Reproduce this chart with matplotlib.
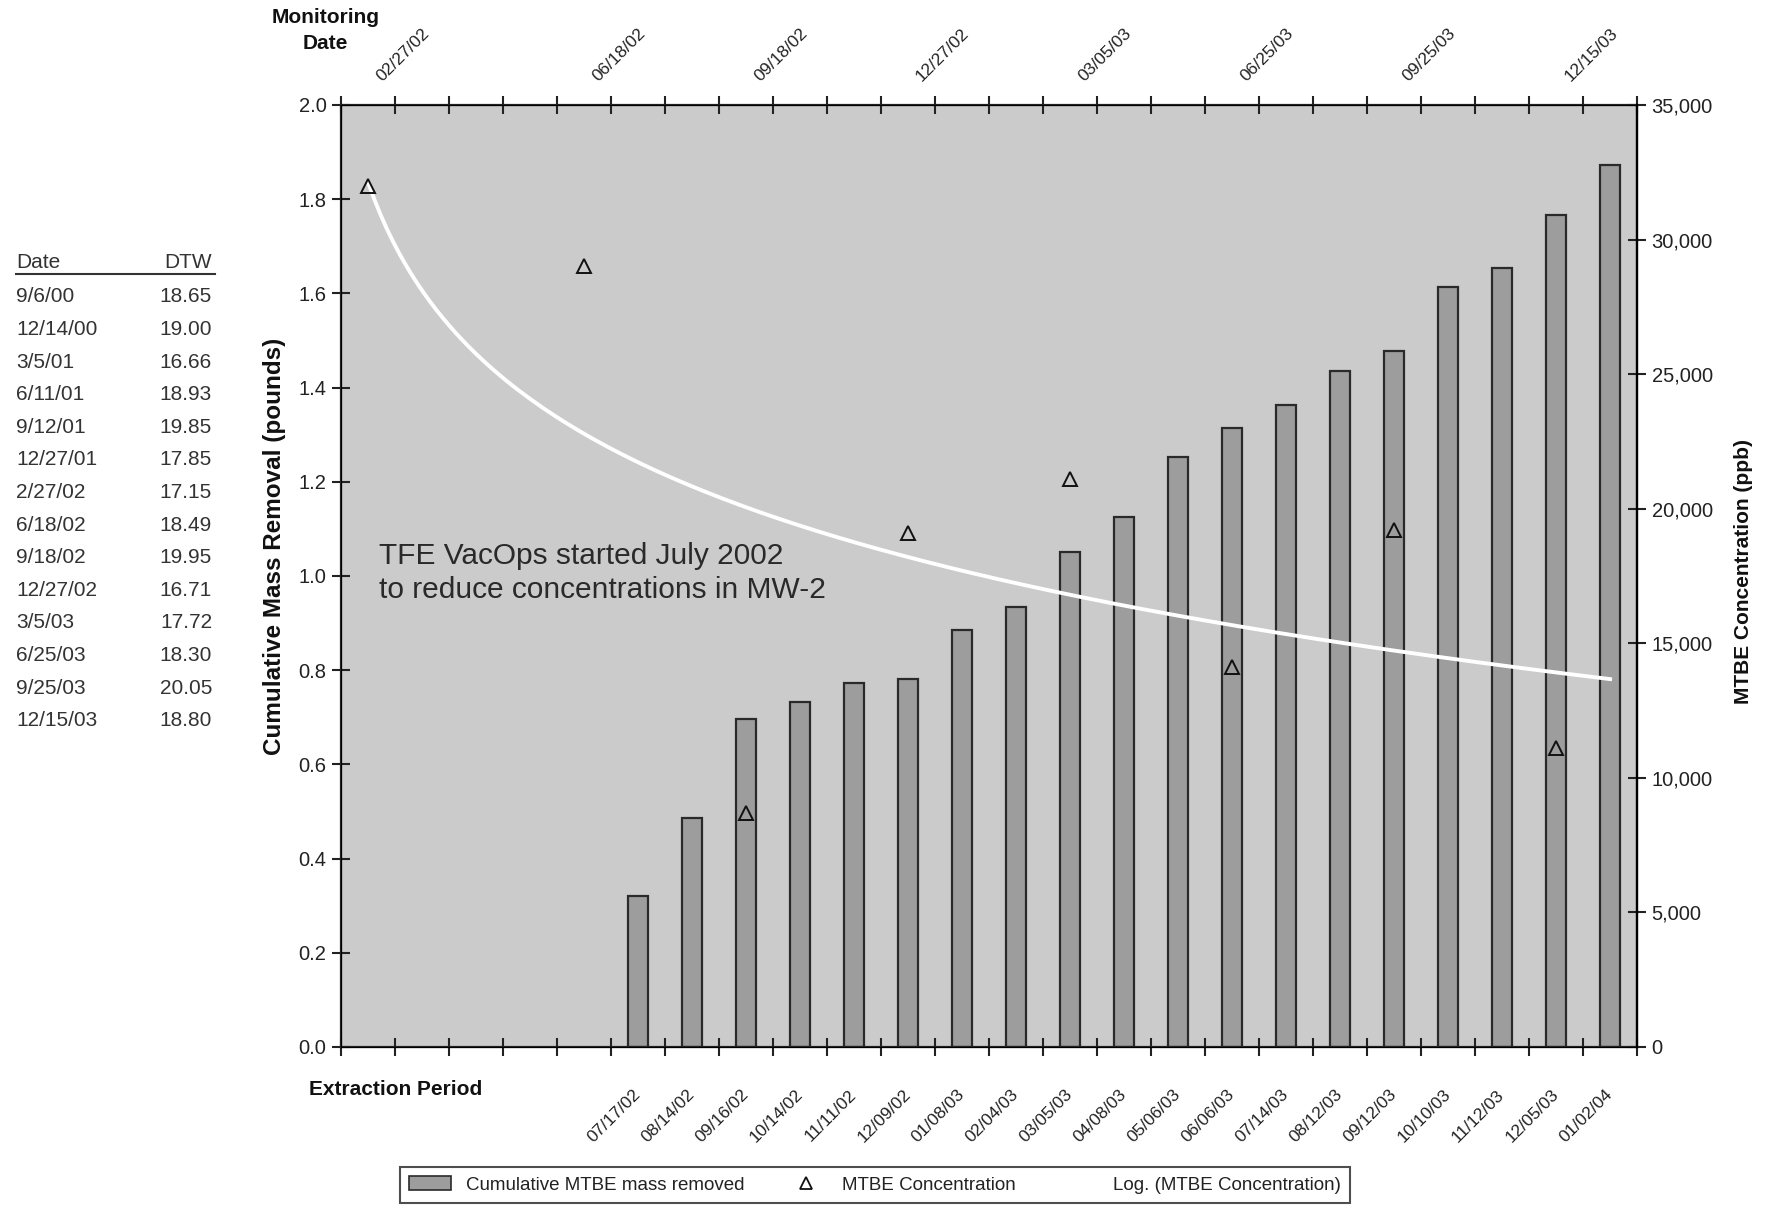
import matplotlib.pyplot as plt
import numpy as np
from matplotlib.patches import Patch
from matplotlib.lines import Line2D
from matplotlib.ticker import FuncFormatter

plt.rcParams["font.family"] = ["Liberation Sans", "DejaVu Sans"]

# Depth-to-water table
dtw_dates = ["9/6/00", "12/14/00", "3/5/01", "6/11/01", "9/12/01", "12/27/01", "2/27/02",
             "6/18/02", "9/18/02", "12/27/02", "3/5/03", "6/25/03", "9/25/03", "12/15/03"]
dtw_values = ["18.65", "19.00", "16.66", "18.93", "19.85", "17.85", "17.15",
              "18.49", "19.95", "16.71", "17.72", "18.30", "20.05", "18.80"]

# Extraction periods (bars, left axis)
n_slots = 24
first_bar_slot = 5
extraction_dates = ["07/17/02", "08/14/02", "09/16/02", "10/14/02", "11/11/02", "12/09/02",
                    "01/08/03", "02/04/03", "03/05/03", "04/08/03", "05/06/03", "06/06/03",
                    "07/14/03", "08/12/03", "09/12/03", "10/10/03", "11/12/03", "12/05/03",
                    "01/02/04"]
mass_removed = [0.32, 0.486, 0.697, 0.733, 0.772, 0.781, 0.885, 0.935, 1.05, 1.125,
                1.252, 1.315, 1.363, 1.435, 1.478, 1.613, 1.654, 1.767, 1.873]

# Monitoring events (triangles, right axis)
monitor_dates = ["02/27/02", "06/18/02", "09/18/02", "12/27/02",
                 "03/05/03", "06/25/03", "09/25/03", "12/15/03"]
monitor_slot = [0, 4, 7, 10, 13, 16, 19, 22]
mtbe_ppb = [32000, 29000, 8700, 19100, 21100, 14100, 19200, 11100]

txt = "#222222"
bg = "#cbcbcb"
bar_fc = "#9d9d9d"

fig = plt.figure(figsize=(17.75, 12.08), dpi=100)
ax = fig.add_axes([0.1921, 0.1333, 0.7302, 0.7798])
ax.set_facecolor(bg)

bar_x = np.arange(first_bar_slot, first_bar_slot + len(mass_removed))
ax.bar(bar_x, mass_removed, width=0.36, color=bar_fc, edgecolor="#2a2a2a",
       linewidth=1.6, zorder=2)

ax.set_xlim(-0.5, n_slots - 0.5)
ax.set_ylim(0, 2.0)
ax.set_yticks(np.arange(0, 2.01, 0.2))
ax.yaxis.set_major_formatter(FuncFormatter(lambda v, p: f"{v:.1f}"))
ax.set_xticks(np.arange(-0.5, n_slots, 1.0))
ax.set_xticklabels([])
ax.tick_params(axis="x", which="both", top=True, bottom=True, direction="inout",
               length=13, width=1.5, color="#222")
ax.tick_params(axis="y", direction="inout", length=13, width=1.5, color="#222",
               labelsize=14.5, labelcolor=txt, pad=4)
for s in ax.spines.values():
    s.set_linewidth(1.6)
    s.set_color("#222")

# secondary axis
ax2 = ax.twinx()
ax2.set_ylim(0, 35000)
ax2.set_yticks(np.arange(0, 35001, 5000))
ax2.yaxis.set_major_formatter(FuncFormatter(lambda v, p: f"{int(v):,}"))
ax2.tick_params(axis="y", direction="inout", length=13, width=1.5, color="#222",
                labelsize=14.5, labelcolor=txt, pad=4)
ax2.spines["right"].set_linewidth(1.6)

ax2.plot(monitor_slot, mtbe_ppb, linestyle="none", marker="^", markersize=10,
         markerfacecolor="none", markeredgecolor="#111", markeredgewidth=1.4, zorder=4)

# logarithmic trendline (Excel style, x = 1..n)
xs = np.array(monitor_slot) + 1
coef = np.polyfit(np.log(xs), mtbe_ppb, 1)
xt = np.linspace(1, n_slots, 200)
ax2.plot(xt - 1, coef[0] * np.log(xt) + coef[1], color="white", linewidth=2.8, zorder=3)

# category labels
for i, lab in zip(bar_x, extraction_dates):
    ax.text(i - 0.1, -0.085, lab, rotation=45, rotation_mode="anchor", ha="right",
            va="top", fontsize=12.5, color=txt, clip_on=False)
for i, lab in zip(monitor_slot, monitor_dates):
    ax.text(i + 0.3, 2.045, lab, rotation=45, rotation_mode="anchor", ha="left",
            va="bottom", fontsize=12.5, color=txt, clip_on=False)

ax.text(0.029, 0.536, "TFE VacOps started July 2002\nto reduce concentrations in MW-2",
        transform=ax.transAxes, fontsize=21.5, color="#2a2a2a", va="top", ha="left",
        linespacing=1.25)

fig.text(0.1544, 0.548, "Cumulative Mass Removal (pounds)", rotation=90, ha="center",
         va="center", fontsize=17.5, fontweight="bold", color="#111")
fig.text(0.982, 0.527, "MTBE Concentration (ppb)", rotation=90, ha="center",
         va="center", fontsize=15, fontweight="bold", color="#111")
fig.text(0.1835, 0.993, "Monitoring\nDate", ha="center", va="top", fontsize=15,
         fontweight="bold", color="#111", linespacing=1.45)
fig.text(0.174, 0.098, "Extraction Period", ha="left", va="center", fontsize=15,
         fontweight="bold", color="#111")

# depth-to-water table
row_h = 32.6 / 1208
y0 = 1 - 263 / 1208
fig.text(16 / 1775, y0, "Date", ha="left", va="center", fontsize=15, color="#333")
fig.text(212 / 1775, y0, "DTW", ha="right", va="center", fontsize=15, color="#333")
fig.add_artist(Line2D([16 / 1775, 215 / 1775], [1 - 274 / 1208] * 2, color="#333", lw=1.5))
for k, (d, v) in enumerate(zip(dtw_dates, dtw_values)):
    yy = y0 - (k + 1) * row_h - 0.001
    fig.text(16 / 1775, yy, d, ha="left", va="center", fontsize=15, color="#333")
    fig.text(212 / 1775, yy, v, ha="right", va="center", fontsize=15, color="#333")

handles = [
    Patch(facecolor=bar_fc, edgecolor="#2a2a2a", linewidth=1.2),
    Line2D([], [], linestyle="none", marker="^", markersize=8, markerfacecolor="none",
           markeredgecolor="#111", markeredgewidth=1.3),
    Line2D([], [], color="white", linewidth=2.5),
]
labels = ["Cumulative MTBE mass removed", "MTBE Concentration", "Log. (MTBE Concentration)"]
leg = fig.legend(handles, labels, loc="center", bbox_to_anchor=(0.493, 0.019), ncol=3,
                 fontsize=13.5, frameon=True, fancybox=False, edgecolor="#222",
                 handlelength=2.2, columnspacing=2.2, borderpad=0.5)
leg.get_frame().set_linewidth(1.5)
for t in leg.get_texts():
    t.set_color(txt)

fig.savefig("out.png", dpi=100, facecolor="white")
